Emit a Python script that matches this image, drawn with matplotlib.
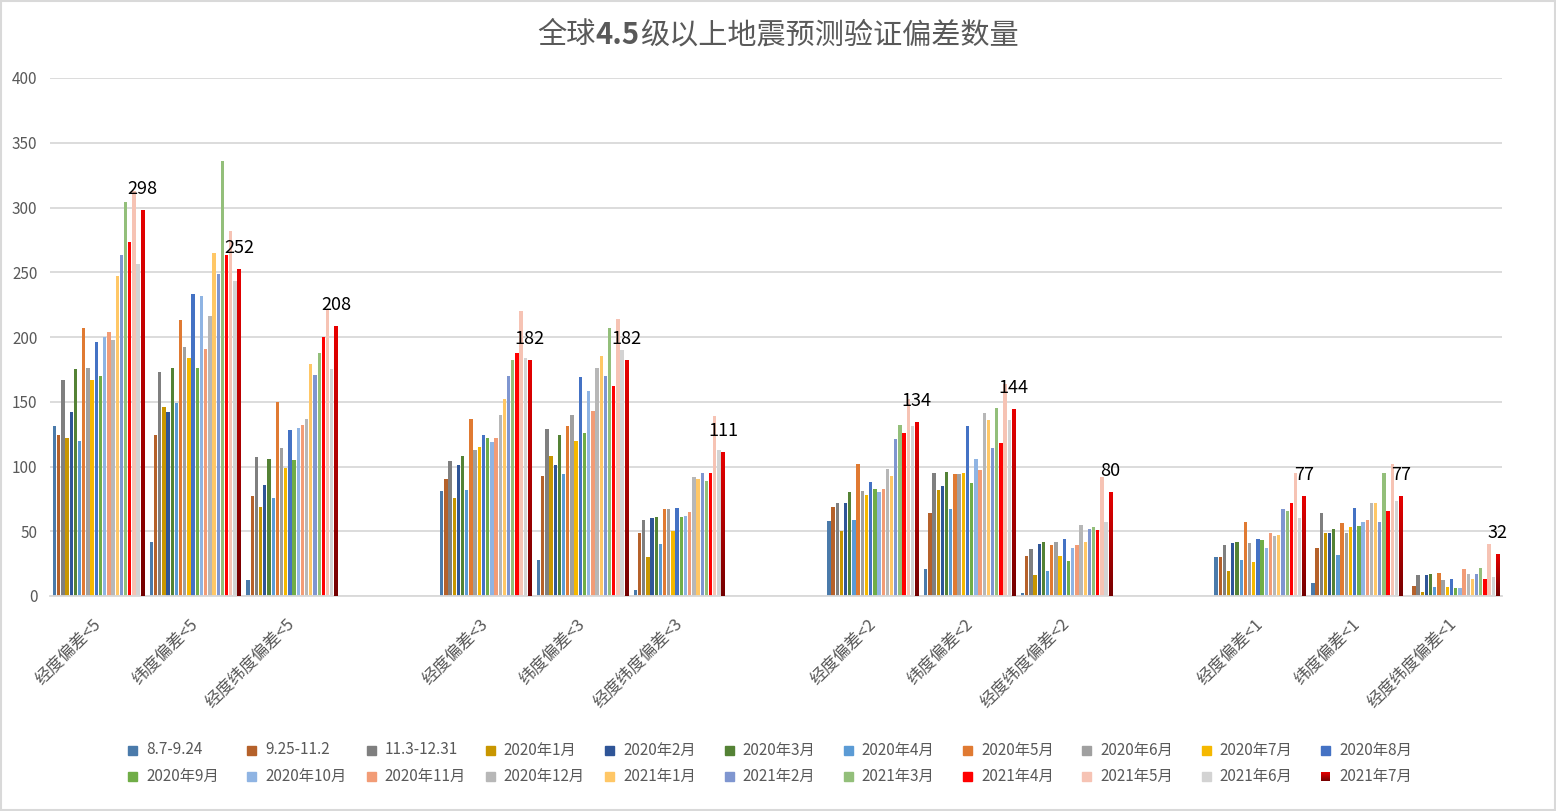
import numpy as np
import matplotlib.pyplot as plt
from matplotlib.colors import LinearSegmentedColormap
from matplotlib.patches import Rectangle

plt.rcParams['font.family'] = ['Noto Sans CJK SC', 'DejaVu Sans']

# title pieces: the number is bold, the rest regular
title_parts = [('全球', 'normal'), ('4.5', 'bold'), ('级以上地震预测验证偏差数量', 'normal')]

categories = ['经度偏差<5', '纬度偏差<5', '经度纬度偏差<5',
              '经度偏差<3', '纬度偏差<3', '经度纬度偏差<3',
              '经度偏差<2', '纬度偏差<2', '经度纬度偏差<2',
              '经度偏差<1', '纬度偏差<1', '经度纬度偏差<1']
# position of each category on the axis (an empty slot between groups)
slots = [0, 1, 2, 4, 5, 6, 8, 9, 10, 12, 13, 14]

series_names = ['8.7-9.24', '9.25-11.2', '11.3-12.31', '2020年1月', '2020年2月',
                '2020年3月', '2020年4月', '2020年5月', '2020年6月', '2020年7月',
                '2020年8月', '2020年9月', '2020年10月', '2020年11月', '2020年12月',
                '2021年1月', '2021年2月', '2021年3月', '2021年4月', '2021年5月',
                '2021年6月', '2021年7月']
series_colors = ['#4a7aaa', '#b5612a', '#7f7f7f', '#c89600', '#2f5597', '#548235',
                 '#5b9bd5', '#e07a32', '#a0a0a0', '#f5b800', '#4472c4', '#70ad47',
                 '#8fb4e3', '#f29c76', '#b7b7b7', '#ffc766', '#7f96d0', '#93bf7a',
                 '#ff0000', '#f6c3b4', '#d3d3d3', '#a00000']

# values per category, one value per series (same order as series_names)
lon5 = [131, 124, 167, 122, 142, 175, 120, 207, 176, 167, 196, 170, 200, 204, 198, 247, 263, 304, 273, 313, 256, 298]
lat5 = [42, 124, 173, 146, 142, 176, 149, 213, 192, 184, 233, 176, 232, 191, 216, 265, 249, 336, 263, 282, 243, 252]
both5 = [12, 77, 107, 69, 86, 106, 76, 150, 114, 99, 128, 105, 130, 132, 137, 179, 171, 188, 200, 222, 175, 208]
lon3 = [81, 90, 104, 76, 101, 108, 82, 137, 113, 115, 124, 122, 119, 122, 140, 152, 170, 182, 188, 220, 184, 182]
lat3 = [28, 93, 129, 108, 101, 124, 94, 131, 140, 120, 169, 126, 158, 143, 176, 185, 170, 207, 162, 214, 190, 182]
both3 = [5, 49, 59, 30, 60, 61, 40, 67, 67, 50, 68, 61, 62, 65, 92, 90, 95, 89, 95, 139, 113, 111]
lon2 = [58, 69, 72, 50, 72, 80, 59, 102, 81, 78, 88, 83, 80, 83, 98, 93, 121, 132, 126, 152, 131, 134]
lat2 = [21, 64, 95, 82, 85, 96, 67, 94, 94, 95, 131, 87, 106, 97, 141, 136, 114, 145, 118, 164, 136, 144]
both2 = [2, 31, 36, 16, 40, 42, 19, 39, 42, 31, 44, 27, 37, 39, 55, 42, 52, 53, 51, 92, 57, 80]
lon1 = [30, 30, 39, 19, 41, 42, 28, 57, 41, 26, 44, 43, 37, 49, 46, 47, 67, 66, 72, 95, 60, 77]
lat1 = [10, 37, 64, 49, 49, 52, 32, 56, 49, 53, 68, 54, 57, 59, 72, 72, 57, 95, 66, 102, 73, 77]
both1 = [0, 8, 16, 3, 16, 17, 7, 18, 12, 7, 13, 6, 6, 21, 17, 13, 17, 22, 13, 40, 15, 32]

data = np.array([lon5, lat5, both5, lon3, lat3, both3,
                 lon2, lat2, both2, lon1, lat1, both1]).T  # shape (series, category)

W, H = 1556, 811
fig = plt.figure(figsize=(W / 100, H / 100), dpi=100)
ax = fig.add_axes([50 / W, 1 - 596 / H, 1452 / W, 518 / H])

x = np.array(slots, dtype=float)
n = len(series_names)
step = 0.0432
bw = step * 0.8
grad_cmap = LinearSegmentedColormap.from_list('jul', ['#730000', '#e80000'])
grad = np.linspace(0, 1, 256).reshape(-1, 1)

for j in range(n):
    xs = x + (j - (n - 1) / 2) * step
    bars = ax.bar(xs, data[j], width=bw, color=series_colors[j], zorder=2)
    if j == n - 1:
        # gradient fill for the last series
        for p in bars.patches:
            x0, h = p.get_x(), p.get_height()
            ax.imshow(grad, extent=[x0, x0 + p.get_width(), 0, h], origin='lower',
                      aspect='auto', cmap=grad_cmap, zorder=3)
        for xi, v in zip(xs, data[j]):
            ax.annotate(str(v), (xi, v), xytext=(0, 9), textcoords='offset points',
                        ha='center', va='bottom', fontsize=13, color='black', zorder=5)

ax.set_xlim(-0.5, 14.5)
ax.set_ylim(0, 400)
ax.set_yticks(np.arange(0, 401, 50))
ax.yaxis.grid(True, color='#d9d9d9', lw=1.3, zorder=0)
ax.set_axisbelow(True)
for s in ['top', 'right', 'left']:
    ax.spines[s].set_visible(False)
ax.spines['bottom'].set_color('#d9d9d9')
ax.spines['bottom'].set_linewidth(1.3)
ax.tick_params(axis='y', length=0, pad=9, labelsize=11, labelcolor='#595959')
ax.set_xticks(x)
ax.set_xticklabels(categories, rotation=45, ha='right', va='center',
                   rotation_mode='anchor', fontsize=12, color='#595959')
ax.tick_params(axis='x', length=0, pad=18)

# title built from pieces laid side by side, centred on the figure
renderer = fig.canvas.get_renderer()
pieces = [fig.text(0, 1 - 35 / H, s, ha='left', va='center', fontsize=21,
                   color='#595959', fontweight=wt) for s, wt in title_parts]
widths = [t.get_window_extent(renderer).width for t in pieces]
left = (W - sum(widths)) / 2
for t, w in zip(pieces, widths):
    t.set_x(left / W)
    left += w

# legend: 2 rows x 11 equal columns, like the Excel legend
for i, name in enumerate(series_names):
    r, c = divmod(i, 11)
    px = 128 + c * 119.3
    py = 750 + r * 26
    if i == n - 1:
        sw = fig.add_axes([px / W, 1 - (py + 4.5) / H, 9 / W, 9 / H])
        sw.imshow(grad, cmap=grad_cmap, origin='lower', aspect='auto')
        sw.axis('off')
    else:
        fig.patches.append(Rectangle((px / W, 1 - (py + 4.5) / H), 9 / W, 9 / H,
                                     transform=fig.transFigure, color=series_colors[i]))
    fig.text((px + 18) / W, 1 - py / H, name, ha='left', va='center',
             fontsize=11, color='#595959')

fig.patches.append(Rectangle((0.0005, 0.001), 0.999, 0.998, transform=fig.transFigure,
                             fill=False, edgecolor='#d9d9d9', lw=1.5))

fig.savefig('out.png', dpi=100)
